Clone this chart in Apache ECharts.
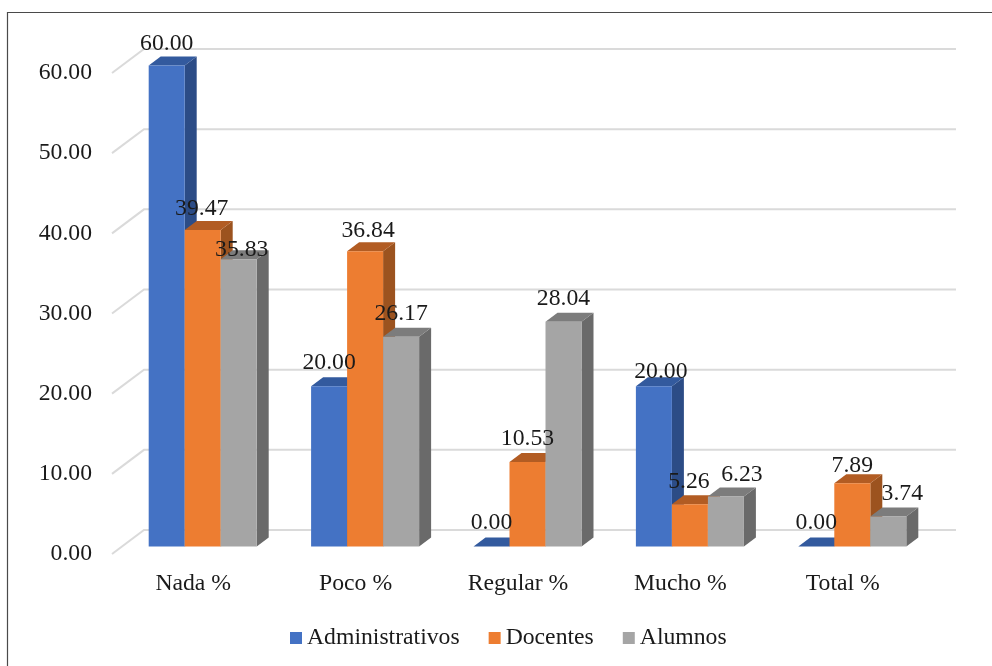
<!DOCTYPE html>
<html>
<head>
<meta charset="utf-8">
<style>html,body{margin:0;padding:0;background:#fff}#chart{width:992px;height:666px}</style>
<script src="https://cdn.jsdelivr.net/npm/echarts@6/dist/echarts.min.js"></script>
</head>
<body>
<div id="chart"></div>
<script>
const categories = ['Nada %', 'Poco %', 'Regular %', 'Mucho %', 'Total %'];
const administrativos = [60.00, 20.00, 0.00, 20.00, 0.00];
const docentes = [39.47, 36.84, 10.53, 5.26, 7.89];
const alumnos = [35.83, 26.17, 28.04, 6.23, 3.74];
const yTicks = [0, 10, 20, 30, 40, 50, 60];

// Hand-placed label nudges [dx, dy] around each bar's default label spot
const nudgeAdministrativos = [[0, 1], [0, -1], [0, -1], [7, 8], [0, -1]];
const nudgeDocentes = [[-1, 1], [3, 2], [0, -1], [-1, 0], [0, 5]];
const nudgeAlumnos = [[3, 13], [0, 0], [0, 0], [16, 1], [14, 0]];

const SERIF = '"Liberation Serif", "Times New Roman", serif';
const FONT_SIZE = 23.7;
const TEXT = '#1a1a1a';

// Oblique projection of the pseudo-3D box
const WALL_DX = 32, WALL_DY = -24;   // floor depth, front edge to back wall
const BAR_DX = 9.5, BAR_DY = -7.5;   // bars stand part-way into the floor
const BOX_DX = 12, BOX_DY = -9;      // depth of every bar
const BAR_RATIO = 0.2217;            // bar width as a share of a category band

const palettes = [
  { front: '#4472C4', side: '#2C4C86', top: '#335A9E' },
  { front: '#ED7D31', side: '#9C531F', top: '#B25C23' },
  { front: '#A5A5A5', side: '#6A6A6A', top: '#7C7C7C' }
];

function poly(points, color) {
  return { type: 'polygon', shape: { points }, style: { fill: color }, z2: 1 };
}

function barSeries(name, values, nudges, slot, colors) {
  return {
    type: 'custom',
    name,
    coordinateSystem: 'cartesian2d',
    itemStyle: { color: colors.front },
    encode: { x: 0, y: 1 },
    data: values.map((v, i) => [i, v]),
    z: 3,
    renderItem(params, api) {
      const idx = api.value(0);
      const val = api.value(1);
      const band = api.size([1, 0])[0];
      const w = band * BAR_RATIO;
      const base = api.coord([idx, 0]);
      const peak = api.coord([idx, val]);
      const x0 = base[0] + BAR_DX + (slot - 1.5) * w;
      const x1 = x0 + w;
      const yB = base[1] + BAR_DY;
      const yT = peak[1] + BAR_DY;
      const children = [
        poly([[x1, yB], [x1 + BOX_DX, yB + BOX_DY], [x1 + BOX_DX, yT + BOX_DY], [x1, yT]], colors.side),
        poly([[x0, yT], [x1, yT], [x1 + BOX_DX, yT + BOX_DY], [x0 + BOX_DX, yT + BOX_DY]], colors.top)
      ];
      if (yB - yT > 0) {
        children.push(poly([[x0, yB], [x1, yB], [x1, yT], [x0, yT]], colors.front));
      }
      const nudge = nudges[idx];
      children.push({
        type: 'text',
        z2: 50,
        x: x0 + w / 2 + nudge[0],
        y: yT - 22.5 + nudge[1],
        style: {
          text: val.toFixed(2),
          font: FONT_SIZE + 'px ' + SERIF,
          fill: TEXT,
          textAlign: 'center',
          textVerticalAlign: 'middle'
        }
      });
      return { type: 'group', children };
    }
  };
}

// Back wall gridlines together with their diagonal runs down the side wall
const wallSeries = {
  type: 'custom',
  name: 'rejilla',
  coordinateSystem: 'cartesian2d',
  silent: true,
  encode: { x: 0, y: 1 },
  data: yTicks.map(v => [0, v]),
  z: 1,
  renderItem(params, api) {
    const band = api.size([1, 0])[0];
    const p = api.coord([0, api.value(1)]);
    const left = p[0] - band / 2;
    const right = left + band * categories.length;
    const style = { stroke: '#DADADA', lineWidth: 2, fill: 'none' };
    return {
      type: 'polyline',
      shape: { points: [[left, p[1]], [left + WALL_DX, p[1] + WALL_DY], [right + WALL_DX, p[1] + WALL_DY]] },
      style
    };
  }
};

const chart = echarts.init(document.getElementById('chart'), null, { renderer: 'canvas' });
chart.setOption({
  animation: false,
  backgroundColor: '#fff',
  textStyle: { fontFamily: SERIF },
  grid: { left: 112, right: 68, top: 73, bottom: 112 },
  xAxis: {
    type: 'category',
    data: categories,
    axisLine: { show: false },
    axisTick: { show: false },
    axisLabel: { color: TEXT, fontSize: FONT_SIZE, fontFamily: SERIF, margin: 18, interval: 0 }
  },
  yAxis: {
    type: 'value',
    min: 0,
    max: 60,
    interval: 10,
    axisLine: { show: false },
    axisTick: { show: false },
    splitLine: { show: false },
    axisLabel: {
      color: TEXT,
      fontSize: FONT_SIZE,
      fontFamily: SERIF,
      margin: 20,
      padding: [4, 0, 0, 0],
      formatter: v => v.toFixed(2)
    }
  },
  legend: {
    data: ['Administrativos', 'Docentes', 'Alumnos'],
    left: 285,
    top: 621,
    icon: 'rect',
    itemWidth: 12,
    itemHeight: 12,
    itemGap: 29,
    textStyle: { color: TEXT, fontSize: FONT_SIZE, fontFamily: SERIF }
  },
  graphic: [{
    type: 'polyline',
    silent: true,
    shape: { points: [[7.5, 666], [7.5, 12.5], [992, 12.5]] },
    style: { stroke: '#4a4a4a', lineWidth: 1.2, fill: 'none' }
  }],
  series: [
    wallSeries,
    barSeries('Administrativos', administrativos, nudgeAdministrativos, 0, palettes[0]),
    barSeries('Docentes', docentes, nudgeDocentes, 1, palettes[1]),
    barSeries('Alumnos', alumnos, nudgeAlumnos, 2, palettes[2])
  ]
});
</script>
</body>
</html>
